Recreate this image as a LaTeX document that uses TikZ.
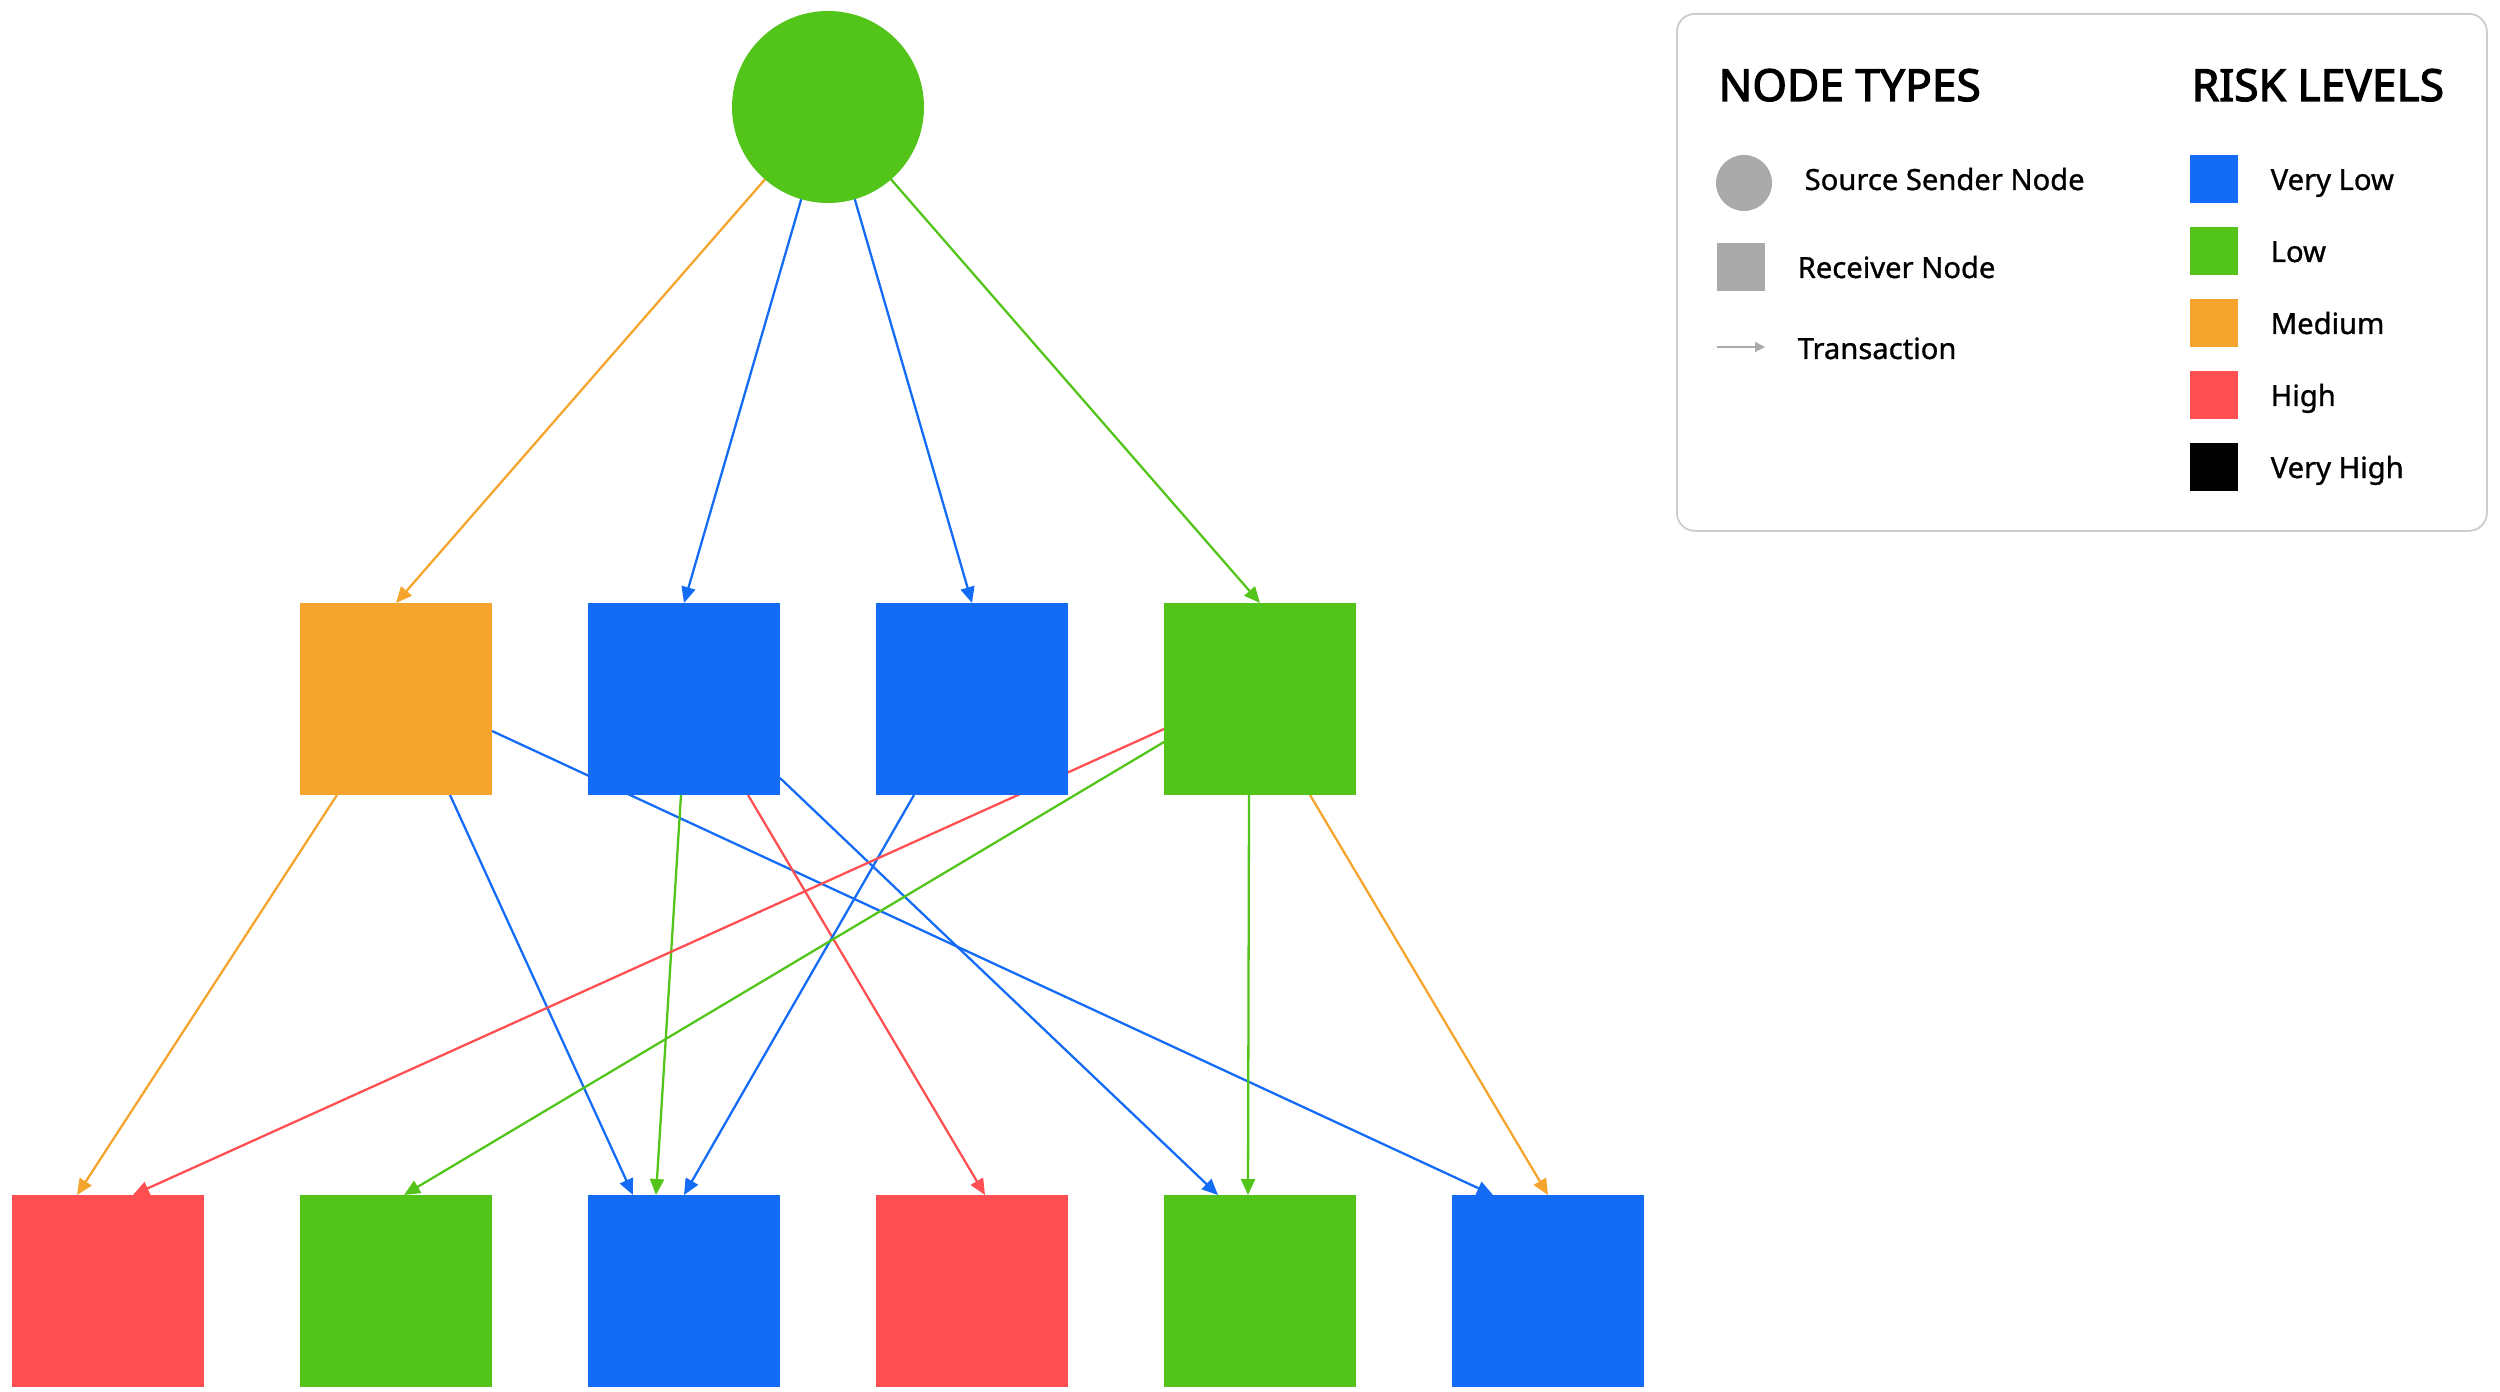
\documentclass[tikz,border=0pt]{standalone}
\usepackage{fontspec}
\setmainfont{Noto Sans}
\newfontfamily\lblfont{Noto Sans}[FakeBold=1]
\newfontfamily\headfont{Noto Sans}[FakeBold=2.6]
\usepackage{tikz}
\usetikzlibrary{positioning, arrows.meta, calc, backgrounds}
\definecolor{riskblue}{HTML}{146CF6}
\definecolor{riskgreen}{HTML}{52C41A}
\definecolor{riskorange}{HTML}{F5A52D}
\definecolor{riskred}{HTML}{FF4F52}
\definecolor{legendgray}{HTML}{AAAAAA}
\definecolor{legendline}{HTML}{CCCCCC}
\tikzset{
  sender/.style={circle, draw=none, minimum size=19.2mm, inner sep=0pt, outer sep=0pt},
  receiver/.style={rectangle, draw=none, minimum size=19.2mm, inner sep=0pt, outer sep=0pt},
  txn/.style={-{Triangle[length=1.6mm, width=1.4mm]}, line width=0.65pt},
  legendbox/.style={draw=legendline, line width=0.5pt, rounded corners=1.8mm, fill=white, minimum width=81mm, minimum height=51.7mm, inner sep=0pt},
  heading/.style={font=\fontsize{12.6}{15}\selectfont\headfont, inner sep=0pt},
  lbl/.style={font=\fontsize{8.3}{10}\selectfont\lblfont, inner sep=0pt},
  swatch/.style={rectangle, draw=none, minimum size=4.8mm, inner sep=0pt},
}

\begin{document}
\begin{tikzpicture}[node distance=4cm and 9.6mm]
  \useasboundingbox (0,0) rectangle (25,-13.92);
  % Bottom row of receivers
  \node[receiver, fill=riskred] (b1) at (1.08,-12.91) {};
  \node[receiver, fill=riskgreen, right=of b1] (b2) {};
  \node[receiver, fill=riskblue, right=of b2] (b3) {};
  \node[receiver, fill=riskred, right=of b3] (b4) {};
  \node[receiver, fill=riskgreen, right=of b4] (b5) {};
  \node[receiver, fill=riskblue, right=of b5] (b6) {};
  % Middle row of receivers
  \node[receiver, fill=riskorange, above=of b2] (m1) {};
  \node[receiver, fill=riskblue, right=of m1] (m2) {};
  \node[receiver, fill=riskblue, right=of m2] (m3) {};
  \node[receiver, fill=riskgreen, right=of m3] (m4) {};
  % Source sender
  \coordinate (mid) at ($(m2.north)!0.5!(m3.north)$);
  \node[sender, fill=riskgreen, above=of mid] (src) {};

  % Transactions (behind the nodes)
  \begin{scope}[on background layer]
    \draw[txn, riskorange] (src) -- (m1.north);
    \draw[txn, riskblue] (src) -- (m2.north);
    \draw[txn, riskblue] (src) -- (m3.north);
    \draw[txn, riskgreen] (src) -- (m4.north);

    \draw[txn, riskorange] ($(m1.south)+(-0.59,0)$) -- ($(b1.north)+(-0.31,0)$);
    \draw[txn, riskblue] ($(m1.south)+(0.54,0)$) -- ($(b3.north)+(-0.51,0)$);
    \draw[txn, riskblue] ($(m1.east)+(0,-0.32)$) -- ($(b6.north)+(-0.55,0)$);

    \draw[txn, riskgreen] ($(m2.south)+(-0.03,0)$) -- ($(b3.north)+(-0.28,0)$);
    \draw[txn, riskred] ($(m2.south)+(0.64,0)$) -- ($(b4.north)+(0.13,0)$);
    \draw[txn, riskblue] ($(m2.east)+(0,-0.79)$) -- ($(b5.north)+(-0.42,0)$);

    \draw[txn, riskblue] ($(m3.south)+(-0.58,0)$) -- (b3.north);

    \draw[txn, riskred] ($(m4.west)+(0,-0.30)$) -- ($(b1.north)+(0.25,0)$);
    \draw[txn, riskgreen] ($(m4.west)+(0,-0.43)$) -- ($(b2.north)+(0.08,0)$);
    \draw[txn, riskgreen] ($(m4.south)+(-0.11,0)$) -- ($(b5.north)+(-0.12,0)$);
    \draw[txn, riskorange] ($(m4.south)+(0.50,0)$) -- (b6.north);
  \end{scope}

  % Legend
  \node[legendbox, anchor=north west] (legend) at (16.76,-0.13) {};
  \node[heading, anchor=base west] (types) at (17.18,-1.01) {NODE TYPES};
  \node[heading, anchor=base west] (levels) at (21.91,-1.01) {RISK LEVELS};

  \node[sender, fill=legendgray, minimum size=5.6mm] (keysrc) at (17.44,-1.83) {};
  \node[lbl, anchor=base west] (keysrctxt) at (18.04,-1.90) {Source Sender Node};
  \node[swatch, fill=legendgray] (keyrecv) at (17.41,-2.67) {};
  \node[lbl, anchor=base west] (keyrecvtxt) at (17.97,-2.78) {Receiver Node};
  \coordinate (keyta) at (17.17,-3.47);
  \coordinate (keytb) at (17.65,-3.47);
  \draw[-{Triangle[length=1mm, width=1mm]}, line width=0.45pt, legendgray] (keyta) -- (keytb);
  \node[lbl, anchor=base west] (keytxt) at (17.97,-3.59) {Transaction};

  \node[swatch, fill=riskblue] (lvl1) at (22.14,-1.79) {};
  \node[lbl, anchor=base west] (lvl1txt) at (22.70,-1.90) {Very Low};
  \node[swatch, fill=riskgreen] (lvl2) at (22.14,-2.51) {};
  \node[lbl, anchor=base west] (lvl2txt) at (22.70,-2.62) {Low};
  \node[swatch, fill=riskorange] (lvl3) at (22.14,-3.23) {};
  \node[lbl, anchor=base west] (lvl3txt) at (22.70,-3.34) {Medium};
  \node[swatch, fill=riskred] (lvl4) at (22.14,-3.95) {};
  \node[lbl, anchor=base west] (lvl4txt) at (22.70,-4.06) {High};
  \node[swatch, fill=black] (lvl5) at (22.14,-4.67) {};
  \node[lbl, anchor=base west] (lvl5txt) at (22.70,-4.78) {Very High};
\end{tikzpicture}
\end{document}
